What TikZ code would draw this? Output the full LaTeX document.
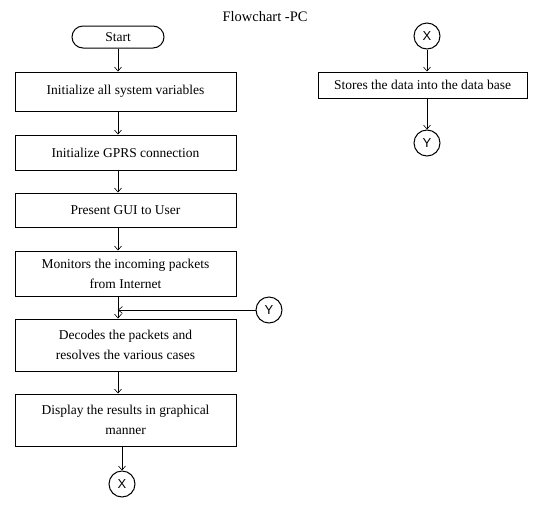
\documentclass[tikz,border=0pt]{standalone}
\usepackage{fontspec}
\setmainfont{Liberation Serif}
\newfontfamily\arialf{Liberation Sans}
\usetikzlibrary{arrows.meta}
\begin{document}
\begin{tikzpicture}[x=1pt,y=-1pt,
  txt/.style={font=\fontsize{13.5}{20}\selectfont},
  box/.style={draw,line width=1pt,minimum width=221pt,align=center,inner sep=0pt,txt},
  term/.style={draw,line width=1pt,rounded corners=11pt,minimum width=92pt,minimum height=22pt,inner sep=0pt,txt},
  conn/.style={draw,circle,line width=1pt,minimum size=26pt,inner sep=0pt,font=\arialf\fontsize{13}{15}\selectfont},
  arr/.style={-{Straight Barb[length=4pt,width=7pt]},line width=0.6pt}
]
\useasboundingbox[fill=white] (0,0) rectangle (543,504);
\node[font=\fontsize{14.5}{17}\selectfont] (title) at (265,17) {Flowchart -PC};
\node[term] (start) at (118,37) {Start};
\node[box,minimum height=39pt] (b1) at (125.5,91.5) {Initialize all system variables};
\node[box,minimum height=35pt] (b2) at (125.5,152.5) {Initialize GPRS connection};
\node[box,minimum height=34pt] (b3) at (125.5,210) {Present GUI to User};
\node[box,minimum height=45pt] (b4) at (125.5,273.5) {Monitors the incoming packets\\from Internet};
\node[box,minimum height=52pt] (b5) at (125.5,345) {Decodes the packets and\\resolves the various cases};
\node[box,minimum height=52pt] (b6) at (125.5,420) {Display the results in graphical\\manner};
\node[conn] (xa) at (122,484) {X};
\node[conn] (ya) at (269,310) {Y};
\node[conn] (xb) at (427,36) {X};
\node[box,minimum width=209pt,minimum height=26pt] (r1) at (422.5,85) {Stores the data into the data base};
\node[conn] (yb) at (427,143) {Y};
\coordinate (m) at (118,310);
\draw[arr] (start.south) -- (start.south |- b1.north);
\draw[arr] (b1.south -| start.south) -- (b2.north -| start.south);
\draw[arr] (b2.south -| start.south) -- (b3.north -| start.south);
\draw[arr] (b3.south -| start.south) -- (b4.north -| start.south);
\draw[arr] (b4.south -| start.south) -- (b5.north -| start.south);
\draw[arr] (b5.south -| start.south) -- (b6.north -| start.south);
\draw[arr] (ya.west) -- (m);
\draw[arr] (b6.south -| xa.north) -- (xa.north);
\draw[arr] (xb.south) -- (r1.north -| xb.south);
\draw[arr] (r1.south -| yb.north) -- (yb.north);
\end{tikzpicture}
\end{document}
